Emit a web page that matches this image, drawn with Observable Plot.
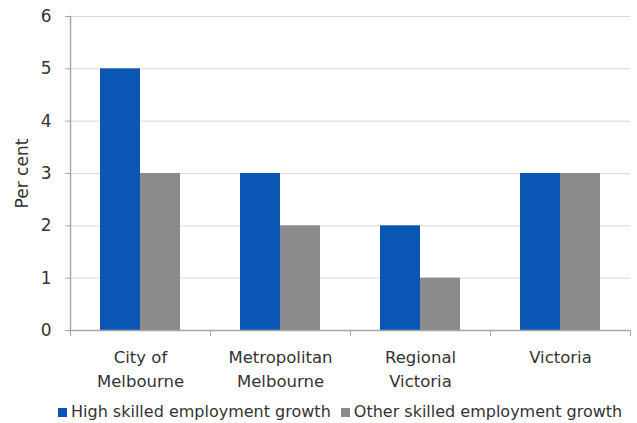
<!DOCTYPE html>
<html>
<head>
<meta charset="utf-8">
<script src="https://cdn.jsdelivr.net/npm/d3@7"></script>
<script src="https://cdn.jsdelivr.net/npm/@observablehq/plot@0.6"></script>
<style>
  body { margin: 0; background: #fff; font-family: "DejaVu Sans", sans-serif; }
  #legend { display: flex; gap: 10px; margin: 7px 0 0 58px; font-size: 16px; color: #333; }
  #legend span.sw { display: inline-block; width: 9px; height: 9px; margin-right: 4px; }
</style>
</head>
<body>
<div id="chart"></div>
<div id="legend"></div>
<script>
const categories = ['City of Melbourne', 'Metropolitan Melbourne', 'Regional Victoria', 'Victoria']
const tickLabels = ['City of\nMelbourne', 'Metropolitan\nMelbourne', 'Regional\nVictoria', 'Victoria']
const highSkilled = [5, 3, 2, 3]
const otherSkilled = [3, 2, 1, 3]
const seriesNames = ['High skilled employment growth', 'Other skilled employment growth']
const seriesColors = ['#0a56b4', '#8b8b8d']
const yTicks = [0, 1, 2, 3, 4, 5, 6]

const rows = categories.map((c, i) => ({category: c, high: highSkilled[i], other: otherSkilled[i]}))

const width = 637
const marginLeft = 70
const marginRight = 7
const band = (width - marginLeft - marginRight) / categories.length

let chart = Plot.plot({
  width: width,
  height: 395,
  marginLeft: marginLeft,
  marginRight: marginRight,
  marginTop: 16,
  marginBottom: 65,
  x: {domain: categories, padding: 0},
  y: {domain: [0, 6]},
  style: {fontFamily: '"DejaVu Sans", sans-serif', fontSize: 16, color: '#333'},
  marks: [
    Plot.ruleY(yTicks.filter(d => d > 0), {stroke: '#d9d9d9'}),
    Plot.barY(rows, {x: 'category', y: 'high', fill: seriesColors[0], insetLeft: band * 30 / 140, insetRight: band * 70 / 140}),
    Plot.barY(rows, {x: 'category', y: 'other', fill: seriesColors[1], insetLeft: band * 70 / 140, insetRight: band * 30 / 140}),
    Plot.ruleY([0], {stroke: '#a6a6a6', strokeWidth: 1.5}),
    Plot.frame({anchor: 'left', stroke: '#a6a6a6', strokeWidth: 1.5}),
    Plot.ruleX(categories, {x: d => d, y1: 0, y2: 0, dx: -band / 2, insetBottom: -6, stroke: '#a6a6a6'}),
    Plot.ruleX(categories.slice(-1), {x: d => d, y1: 0, y2: 0, dx: band / 2, insetBottom: -6, stroke: '#a6a6a6'}),
    Plot.axisY({ticks: yTicks, tickFormat: 'd', tickSize: 5, tickPadding: 14, stroke: '#a6a6a6', fontSize: 17,
      label: 'Per cent', labelAnchor: 'center', labelArrow: 'none', labelOffset: 55}),
    Plot.axisX({tickSize: 0, tickPadding: 16, fontSize: 16.5, lineHeight: 1.45, label: null,
      tickFormat: d => tickLabels[categories.indexOf(d)]})
  ]
})
d3.select('#chart').append(() => chart)

const legend = d3.select('#legend')
seriesNames.forEach((name, i) => {
  const item = legend.append('div')
  item.append('span').attr('class', 'sw').style('background', seriesColors[i])
  item.append('span').text(name)
})
</script>
</body>
</html>
